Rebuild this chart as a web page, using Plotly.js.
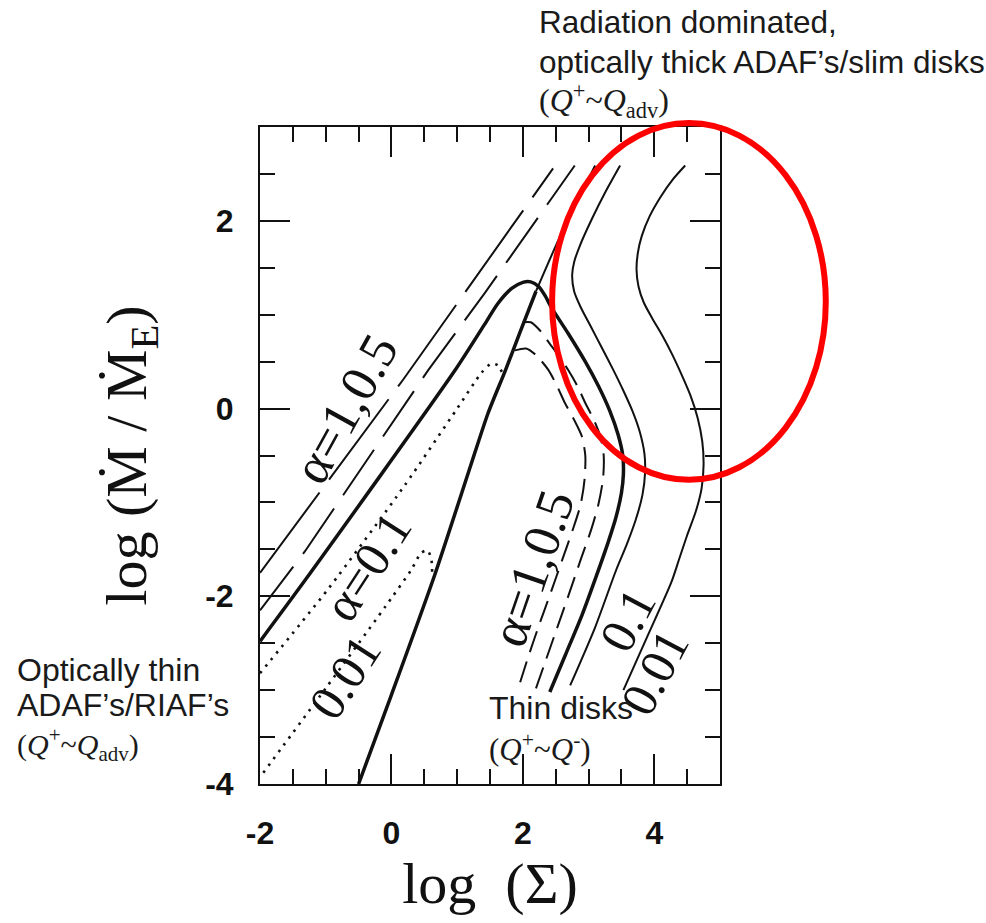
<!DOCTYPE html>
<html>
<head>
<meta charset="utf-8">
<script src="https://cdn.plot.ly/plotly-3.0.1.min.js"></script>
<style>html,body{margin:0;padding:0;background:#fff;}</style>
</head>
<body>
<div id="chart" style="width:986px;height:923px;"></div>
<script>
// ---------- data: log(Sigma) vs log(Mdot/Mdot_E) ----------
// optically thin ADAF branch, alpha = 1 (long dashes)
const adafA1X = [-2.0, 0.18, 2.46];
const adafA1Y = [-1.75, 0.31, 2.56];
// optically thin ADAF branch, alpha = 0.5 (dashes)
const adafA05X = [-2.0, -1.315, 0.56, 1.42, 2.79];
const adafA05Y = [-2.15, -1.52, 0.41, 1.23, 2.59];
// alpha = 0.1 thick solid S-curve (ADAF branch, turnover, thin disk branch)
const curveA01X = [-2.0, -1.315, 0.97, 1.42, 1.62, 1.83, 2.0, 2.12, 2.24, 2.34, 2.44, 2.69, 2.95, 3.15, 3.32, 3.45, 3.52, 3.53, 3.5, 3.42, 3.3, 3.12, 2.9, 2.65, 2.41];
const curveA01Y = [-2.48, -1.83, 0.41, 0.9, 1.12, 1.28, 1.345, 1.35, 1.3, 1.2, 1.07, 0.8, 0.5, 0.24, -0.02, -0.28, -0.5, -0.7, -0.9, -1.15, -1.42, -1.78, -2.2, -2.62, -3.02];
// steep boundary line (thick lower part, thinner upper part)
const steepLowX = [-0.5, 0.0, 0.66, 1.2, 1.47, 1.73, 1.95, 2.2];
const steepLowY = [-4.0, -3.05, -1.77, -0.62, -0.05, 0.4, 0.8, 1.25];
const steepHighX = [2.2, 2.57, 3.1];
const steepHighY = [1.25, 1.84, 2.59];
// dotted branches (alpha = 0.1 and 0.01)
const dot01X = [-2.0, -0.96, 0.2, 1.0, 1.37, 1.52, 1.62, 1.7];
const dot01Y = [-2.82, -1.92, -0.82, 0.0, 0.38, 0.48, 0.46, 0.36];
const dot001X = [-1.95, -1.0, 0.0, 0.3, 0.45, 0.55, 0.61, 0.62];
const dot001Y = [-3.88, -2.98, -2.02, -1.72, -1.54, -1.51, -1.62, -1.8];
// thin disk / slim disk branches, alpha = 1 and 0.5 (short dashes)
const thinA1X = [1.88, 2.05, 2.2, 2.39, 2.52, 2.64, 2.78, 2.9, 2.95, 2.94, 2.88, 2.76, 2.6, 2.43, 2.25, 2.08, 1.93];
const thinA1Y = [0.62, 0.64, 0.57, 0.41, 0.24, 0.06, -0.12, -0.3, -0.5, -0.75, -1.02, -1.29, -1.61, -1.95, -2.3, -2.65, -2.98];
const thinA05X = [2.0, 2.12, 2.25, 2.4, 2.55, 2.69, 2.83, 2.95, 3.08, 3.18, 3.23, 3.22, 3.15, 3.04, 2.88, 2.7, 2.49, 2.34, 2.19];
const thinA05Y = [0.92, 0.92, 0.84, 0.7, 0.56, 0.41, 0.24, 0.06, -0.12, -0.3, -0.5, -0.75, -1.02, -1.29, -1.61, -1.98, -2.4, -2.7, -3.0];
// thin solid S-curves alpha = 0.1 and 0.01
const sA01X = [3.48, 3.25, 3.05, 2.87, 2.78, 2.75, 2.78, 2.88, 3.03, 3.2, 3.37, 3.53, 3.67, 3.78, 3.85, 3.86, 3.82, 3.72, 3.58, 3.42, 3.1, 2.72];
const sA01Y = [2.59, 2.3, 2.02, 1.74, 1.56, 1.42, 1.25, 1.08, 0.88, 0.65, 0.42, 0.19, -0.03, -0.25, -0.48, -0.68, -0.92, -1.18, -1.45, -1.72, -2.33, -2.95];
const sA001X = [4.47, 4.28, 4.1, 3.93, 3.81, 3.75, 3.73, 3.76, 3.84, 3.97, 4.12, 4.27, 4.41, 4.55, 4.66, 4.73, 4.75, 4.72, 4.63, 4.5, 4.38, 4.26, 3.9, 3.53];
const sA001Y = [2.59, 2.44, 2.26, 2.05, 1.84, 1.66, 1.48, 1.3, 1.13, 0.96, 0.78, 0.58, 0.37, 0.14, -0.1, -0.35, -0.6, -0.85, -1.1, -1.35, -1.6, -1.85, -2.42, -3.0];
// tick labels
const xTickVals = [-2, 0, 2, 4];
const xTickText = ['-2', '0', '2', '4'];
const yTickVals = [-4, -2, 0, 2];
const yTickText = ['-4', '-2', '0', '2'];

// ---------- traces ----------
function tr(x, y, width, dash, shape) {
  return {x: x, y: y, type: 'scatter', mode: 'lines', hoverinfo: 'skip',
    line: {color: '#111', width: width, dash: dash || 'solid', shape: shape || 'spline', smoothing: 0.7}};
}
const data = [
  tr(adafA1X, adafA1Y, 2, '100px,16px', 'linear'),
  tr(adafA05X, adafA05Y, 2, '55px,16px', 'linear'),
  tr(curveA01X, curveA01Y, 3.5, 'solid'),
  tr(steepLowX, steepLowY, 3.5, 'solid'),
  tr(steepHighX, steepHighY, 2, 'solid'),
  tr(dot01X, dot01Y, 2.6, '2.5px,6px'),
  tr(dot001X, dot001Y, 2.6, '2.5px,6px'),
  tr(thinA1X, thinA1Y, 2, '22px,10px'),
  tr(thinA05X, thinA05Y, 2, '22px,10px'),
  tr(sA01X, sA01Y, 2, 'solid'),
  tr(sA001X, sA001Y, 2, 'solid')
];

const serif = 'Liberation Serif, Times New Roman, serif';
const sans = 'Liberation Sans, Arial, sans-serif';
function lab(text, x, y, ang, size) {
  return {text: text, x: x, y: y, xref: 'x', yref: 'y', showarrow: false, textangle: ang,
    font: {family: serif, size: size || 50, color: '#111'}, xanchor: 'center', yanchor: 'middle'};
}
function note(text, x, y, fam, size) {
  return {text: text, x: x, y: y, xref: 'paper', yref: 'paper', showarrow: false,
    xanchor: 'left', yanchor: 'middle', align: 'left', font: {family: fam, size: size, color: '#1a1a1a'}};
}
const qadv = '(<i>Q</i><sup>+</sup>~<i>Q</i><sub>adv</sub>)';
const annotations = [
  lab('α=1,0.5', -0.7, 0.0, -61, 52),
  lab('α=0.1', -0.36, -1.68, -57, 50),
  lab('0.01', -0.71, -2.86, -57, 50),
  lab('α=1,0.5', 2.14, -1.70, -71, 52),
  lab('0.1', 3.59, -2.25, -62, 50),
  lab('0.01', 4.01, -2.81, -62, 50),
  note('Radiation dominated,', 0.602, 1.160, sans, 31.5),
  note('optically thick ADAF’s/slim disks', 0.602, 1.099, sans, 31.5),
  note(qadv, 0.602, 1.040, serif, 32),
  note('Optically thin', -0.5326, 0.1735, sans, 32),
  note('ADAF’s/RIAF’s', -0.5326, 0.1202, sans, 32),
  note(qadv, -0.5326, 0.060, serif, 30),
  note('Thin disks', 0.4935, 0.1157, sans, 32),
  note('(<i>Q</i><sup>+</sup>~<i>Q</i><sup>-</sup>)', 0.4935, 0.055, serif, 31)
];

const axisCommon = {
  showgrid: false, zeroline: false, showline: true, linecolor: '#111', linewidth: 2,
  mirror: 'ticks', ticks: 'inside', ticklen: 30, tickwidth: 2, tickcolor: '#111',
  tickmode: 'array', fixedrange: true,
  tickfont: {family: sans, size: 32, color: '#111', weight: 'bold'},
  minor: {tickmode: 'linear', tick0: 0, dtick: 0.5, ticks: 'inside', ticklen: 15, tickwidth: 2, tickcolor: '#111', showgrid: false}
};
const layout = {
  width: 986, height: 923,
  margin: {l: 260, r: 266, t: 127, b: 139},
  paper_bgcolor: '#fff', plot_bgcolor: '#fff', showlegend: false,
  xaxis: Object.assign({}, axisCommon, {
    range: [-2, 5], tickvals: xTickVals, ticktext: xTickText, ticklabelstandoff: 20,
    title: {text: 'log\u00a0\u00a0(Σ)', font: {family: serif, size: 58, color: '#111'}, standoff: 10}
  }),
  yaxis: Object.assign({}, axisCommon, {
    range: [-4, 3], tickvals: yTickVals, ticktext: yTickText, ticklabelstandoff: 18,
    title: {text: 'log\u00a0(Ṁ\u00a0/\u00a0Ṁ<sub>E</sub>)', font: {family: serif, size: 58, color: '#111'}, standoff: 40}
  }),
  annotations: annotations,
  shapes: [{type: 'circle', xref: 'paper', yref: 'paper', x0: 0.635, x1: 1.230, y0: 0.463, y1: 1.006,
    line: {color: '#ff0000', width: 6}, fillcolor: 'rgba(0,0,0,0)', layer: 'above'}]
};
Plotly.newPlot('chart', data, layout, {displayModeBar: false, staticPlot: true});
</script>
</body>
</html>
